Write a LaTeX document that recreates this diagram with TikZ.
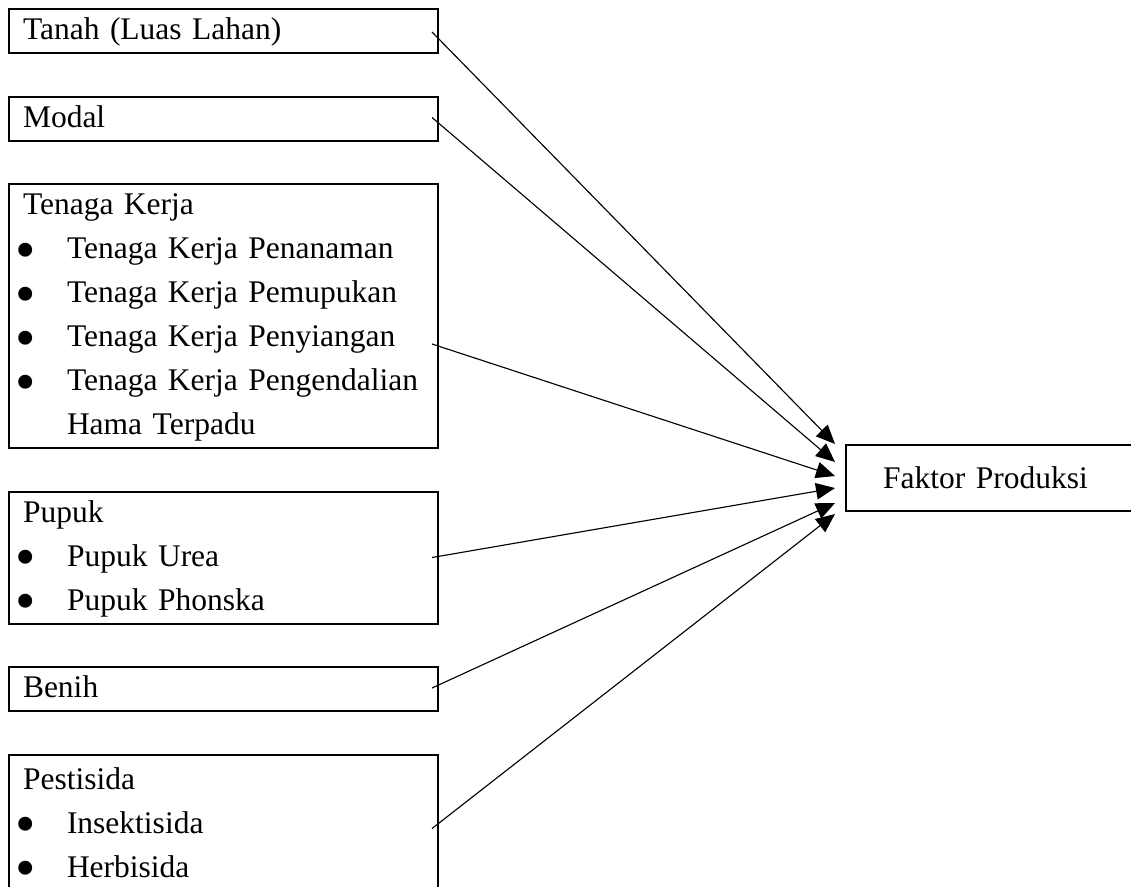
\documentclass[tikz,border=0pt]{standalone}
\usepackage{fontspec}
\setmainfont{Liberation Serif}
\usetikzlibrary{arrows.meta,positioning,calc}

\tikzset{
  inbox/.style={draw, line width=0.8pt, rectangle, anchor=north west, inner xsep=5.6pt, inner ysep=0pt, outer sep=0pt, text width=160.4pt, align=left},
  outbox/.style={draw, line width=0.7pt, rectangle, anchor=west, inner xsep=14.8pt, inner ysep=0pt, outer sep=0pt, text width=90.4pt, minimum height=26.4pt, align=left},
  conn/.style={-{Triangle[length=7.6pt,width=6.6pt]}, line width=0.45pt}
}
\newcommand{\butir}[1]{\strut\hspace*{-3.2pt}\makebox[20.8pt][l]{\raisebox{-4.1pt}{\scalebox{1.85}{\textbullet}}}\mbox{#1}}

\begin{document}
\begin{tikzpicture}[x=0.4pt, y=-0.4pt, every node/.style={font=\fontsize{12.6}{17.6}\selectfont}]
    \useasboundingbox (0,0) rectangle (1131,886);

    % Input factors
    \node[inbox] (tanah) at (9,9) {\strut Tanah (Luas Lahan)};
    \node[inbox, below right=17.4pt and 0pt of tanah.south west] (modal) {\strut Modal};
    \node[inbox, below right=17.4pt and 0pt of modal.south west] (tenaga) {\strut Tenaga Kerja\\
        \butir{Tenaga Kerja Penanaman}\\
        \butir{Tenaga Kerja Pemupukan}\\
        \butir{Tenaga Kerja Penyiangan}\\
        \butir{Tenaga Kerja Pengendalian}\\
        \strut\hspace*{17.6pt}Hama Terpadu};
    \node[inbox, below right=17.4pt and 0pt of tenaga.south west] (pupuk) {\strut Pupuk\\
        \butir{Pupuk Urea}\\
        \butir{Pupuk Phonska}};
    \node[inbox, below right=17.4pt and 0pt of pupuk.south west] (benih) {\strut Benih};
    \node[inbox, below right=17.4pt and 0pt of benih.south west, minimum height=56pt] (pestisida) {\strut Pestisida\\
        \butir{Insektisida}\\
        \butir{Herbisida}};

    % Output
    \node[outbox] (faktor) at (846,478) {Faktor Produksi};

    % Arrow start and end points
    \coordinate (tanah-out) at ($(tanah.north east)+(-6,23)$);
    \coordinate (modal-out) at ($(modal.north east)+(-6,21)$);
    \coordinate (tenaga-out) at ($(tenaga.north east)+(-6,160)$);
    \coordinate (pupuk-out) at ($(pupuk.north east)+(-6,66)$);
    \coordinate (benih-out) at ($(benih.north east)+(-6,21)$);
    \coordinate (pestisida-out) at ($(pestisida.north east)+(-6,74)$);
    \foreach \dy [count=\i] in {-34,-16,-2,10,25,36}
        \coordinate (in\i) at ($(faktor.west)+(-11,\dy)$);

    % Connectors
    \foreach \src [count=\i] in {tanah,modal,tenaga,pupuk,benih,pestisida}
        \draw[conn] (\src-out) -- (in\i);
\end{tikzpicture}
\end{document}
